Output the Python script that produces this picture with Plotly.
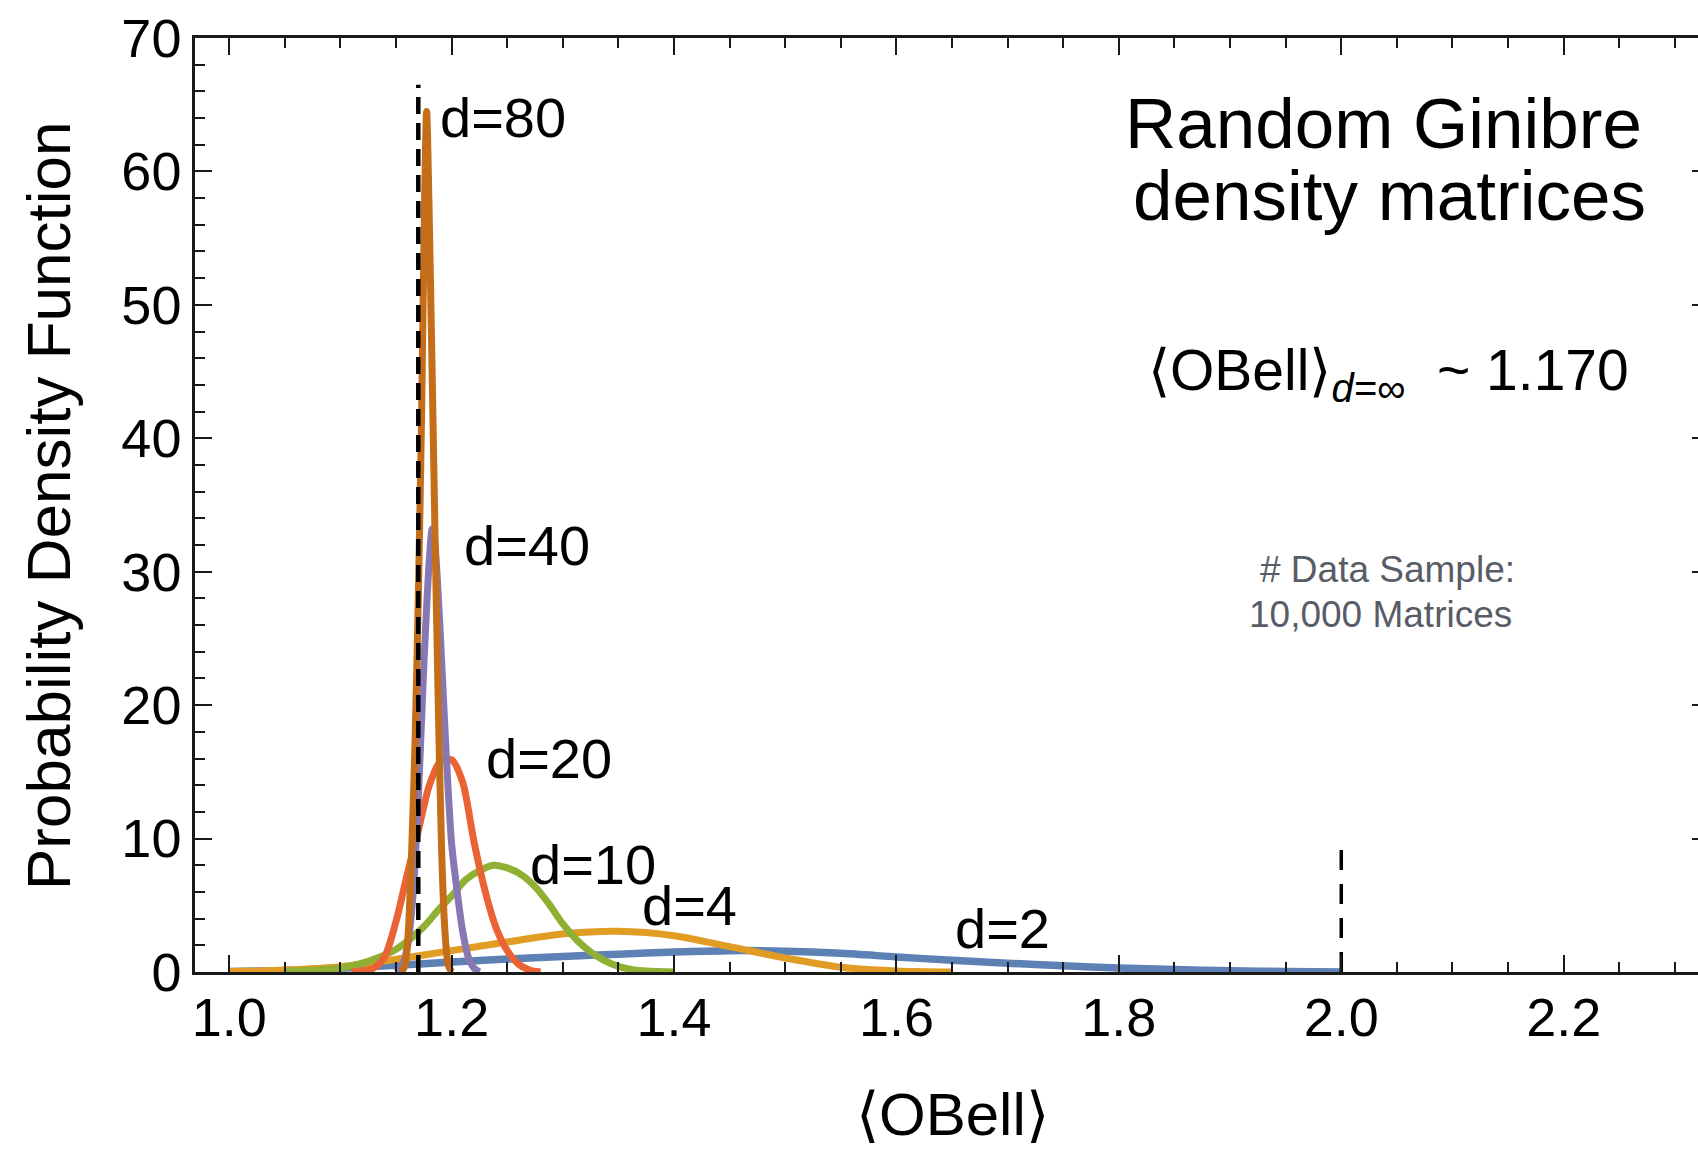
import plotly.graph_objects as go

# ---------------- data ----------------
d2_x = [1.00, 1.05, 1.10, 1.15, 1.20, 1.25, 1.30, 1.35, 1.40, 1.45, 1.50, 1.55, 1.60,
        1.65, 1.70, 1.75, 1.80, 1.85, 1.90, 1.95, 2.00]
d2_y = [0.03, 0.12, 0.28, 0.50, 0.75, 0.97, 1.16, 1.33, 1.50, 1.60, 1.56, 1.40, 1.13,
        0.88, 0.66, 0.46, 0.30, 0.18, 0.09, 0.04, 0.0]

d4_x = [1.00, 1.05, 1.10, 1.15, 1.20, 1.25, 1.30, 1.35, 1.40, 1.45, 1.50, 1.55, 1.60, 1.65]
d4_y = [0.03, 0.15, 0.40, 0.95, 1.60, 2.25, 2.85, 3.05, 2.72, 1.90, 1.05, 0.36, 0.08, 0.0]

d10_x = [1.05, 1.10, 1.125, 1.15, 1.175, 1.1875, 1.20, 1.2125, 1.225, 1.2375, 1.25, 1.2625,
         1.275, 1.2875, 1.30, 1.3125, 1.325, 1.3375, 1.35, 1.3625, 1.375, 1.40]
d10_y = [0.05, 0.30, 0.80, 1.70, 3.40, 4.60, 5.70, 6.90, 7.60, 8.00, 7.80, 7.30,
         6.40, 5.10, 3.60, 2.40, 1.50, 0.85, 0.42, 0.18, 0.07, 0.0]

d20_x = [1.11, 1.12, 1.13, 1.14, 1.15, 1.16, 1.17, 1.18, 1.19, 1.20, 1.21, 1.22, 1.23,
         1.24, 1.25, 1.26, 1.27, 1.28]
d20_y = [0.0, 0.10, 0.30, 1.20, 3.80, 7.30, 10.6, 14.0, 15.8, 15.9, 14.2, 9.8, 6.1,
         3.3, 1.6, 0.6, 0.15, 0.0]

d40_x = [1.150, 1.155, 1.160, 1.165, 1.170, 1.175, 1.180, 1.1825, 1.185, 1.190, 1.195,
         1.200, 1.205, 1.210, 1.215, 1.220, 1.225]
d40_y = [0.0, 0.4, 1.8, 5.5, 13.0, 23.0, 31.0, 33.2, 32.0, 25.0, 16.5,
         9.6, 6.0, 3.0, 1.1, 0.3, 0.0]

d80_x = [1.155, 1.158, 1.161, 1.164, 1.167, 1.170, 1.173, 1.1755, 1.1775, 1.1795, 1.182,
         1.185, 1.188, 1.191, 1.194, 1.197, 1.200]
d80_y = [0.0, 0.5, 3.0, 9.0, 17.0, 28.0, 42.0, 57.0, 64.5, 58.0, 47.0,
         33.0, 20.0, 9.0, 3.0, 0.5, 0.0]

series_names = ["d=2", "d=4", "d=10", "d=20", "d=40", "d=80"]
series_colors = ["#5E81B5", "#E19C24", "#8FB032", "#EB6235", "#8778B3", "#C56E1A"]

# curve label positions (data coords)
label_x = [1.695, 1.414, 1.327, 1.2876, 1.2677, 1.2466]
label_y = [3.28, 4.98, 8.05, 16.02, 31.99, 64.07]

# reference dashed lines
ref_x = [1.170, 2.0]
ref_top = [66.5, 9.75]

x_range = [0.9692, 2.3208]
y_range = [0, 70]
x_ticks = [1.0, 1.2, 1.4, 1.6, 1.8, 2.0, 2.2]
x_ticklabels = ["1.0", "1.2", "1.4", "1.6", "1.8", "2.0", "2.2"]
y_ticks = [0, 10, 20, 30, 40, 50, 60, 70]

FONT = "Liberation Sans, Arial, Helvetica, sans-serif"

fig = go.Figure()

all_x = [d2_x, d4_x, d10_x, d20_x, d40_x, d80_x]
all_y = [d2_y, d4_y, d10_y, d20_y, d40_y, d80_y]
for xs, ys, name, col in zip(all_x, all_y, series_names, series_colors):
    fig.add_trace(go.Scatter(
        x=xs, y=ys, mode="lines", name=name,
        line=dict(color=col, width=7.5 if name == "d=2" else 7, shape="spline", smoothing=0.8),
        showlegend=False, hoverinfo="skip"))

dash_styles = ["17px,9px", "20px,14px"]
dash_widths = [4.5, 3.5]
for xv, top, ds, w in zip(ref_x, ref_top, dash_styles, dash_widths):
    fig.add_trace(go.Scatter(
        x=[xv, xv], y=[0, top], mode="lines",
        line=dict(color="black", width=w, dash=ds),
        showlegend=False, hoverinfo="skip"))

# invisible trace for the right-side tick axis
fig.add_trace(go.Scatter(x=[x_range[0]], y=[0], yaxis="y2", mode="markers",
                         marker=dict(opacity=0), showlegend=False, hoverinfo="skip"))

for name, lx, ly in zip(series_names, label_x, label_y):
    fig.add_annotation(x=lx, y=ly, xref="x", yref="y", text=name, showarrow=False,
                       xanchor="center", yanchor="middle",
                       font=dict(family=FONT, size=56, color="black"))

# text blocks
fig.add_annotation(x=2.0377, y=63.6, xref="x", yref="y", text="Random Ginibre",
                   showarrow=False, xanchor="center", yanchor="middle",
                   font=dict(family=FONT, size=71, color="black"))
fig.add_annotation(x=2.043, y=58.2, xref="x", yref="y", text="density matrices",
                   showarrow=False, xanchor="center", yanchor="middle",
                   font=dict(family=FONT, size=71, color="black"))
fig.add_annotation(x=2.0429, y=44.8, xref="x", yref="y",
                   text="\u27e8OBell\u27e9<sub><i>d=\u221e</i></sub>\u00a0\u00a0~ 1.170",
                   showarrow=False, xanchor="center", yanchor="middle",
                   font=dict(family=FONT, size=57, color="black"))
fig.add_annotation(x=2.0413, y=30.18, xref="x", yref="y", text="# Data Sample:",
                   showarrow=False, xanchor="center", yanchor="middle",
                   font=dict(family=FONT, size=37, color="#575c66"))
fig.add_annotation(x=2.0357, y=26.8, xref="x", yref="y", text="10,000 Matrices",
                   showarrow=False, xanchor="center", yanchor="middle",
                   font=dict(family=FONT, size=37, color="#575c66"))

# axis titles
fig.add_annotation(x=-0.0971, y=0.499, xref="paper", yref="paper",
                   text="Probability Density Function", textangle=-90,
                   showarrow=False, xanchor="center", yanchor="middle",
                   font=dict(family=FONT, size=62, color="black"))
fig.add_annotation(x=0.5043, y=-0.153, xref="paper", yref="paper",
                   text="\u27e8OBell\u27e9",
                   showarrow=False, xanchor="center", yanchor="middle",
                   font=dict(family=FONT, size=60, color="black"))

axis_col = "#1a1a1a"
fig.update_layout(
    width=1698, height=1152,
    margin=dict(l=195, r=0, t=38, b=180),
    paper_bgcolor="white", plot_bgcolor="white",
    xaxis=dict(range=x_range, tickvals=x_ticks, ticktext=x_ticklabels,
               ticks="inside", ticklen=17, tickwidth=2, tickcolor=axis_col,
               showline=True, linecolor=axis_col, linewidth=2.5, mirror="ticks",
               showgrid=False, zeroline=False,
               minor=dict(ticks="inside", ticklen=10, tickwidth=2, tickcolor=axis_col,
                          dtick=0.05, tick0=1.0, showgrid=False),
               tickfont=dict(family=FONT, size=54, color="black"),
               ticklabelstandoff=-4),
    yaxis=dict(range=y_range, tickvals=y_ticks,
               ticks="inside", ticklen=17, tickwidth=2, tickcolor=axis_col,
               showline=True, linecolor=axis_col, linewidth=2.5, mirror=False,
               showgrid=False, zeroline=False,
               minor=dict(ticks="inside", ticklen=10, tickwidth=2, tickcolor=axis_col,
                          dtick=2, tick0=0, showgrid=False),
               tickfont=dict(family=FONT, size=54, color="black"),
               ticklabelstandoff=0),
    yaxis2=dict(range=y_range, overlaying="y", side="right", tickvals=y_ticks,
                ticks="inside", ticklen=6, tickwidth=2, tickcolor=axis_col,
                showticklabels=False, showline=False, showgrid=False, zeroline=False),
    showlegend=False,
)

fig.write_html("out.html",
               config={"displayModeBar": False},
               post_script="document.body.style.margin='0';"
                           "document.body.style.overflow='hidden';")
